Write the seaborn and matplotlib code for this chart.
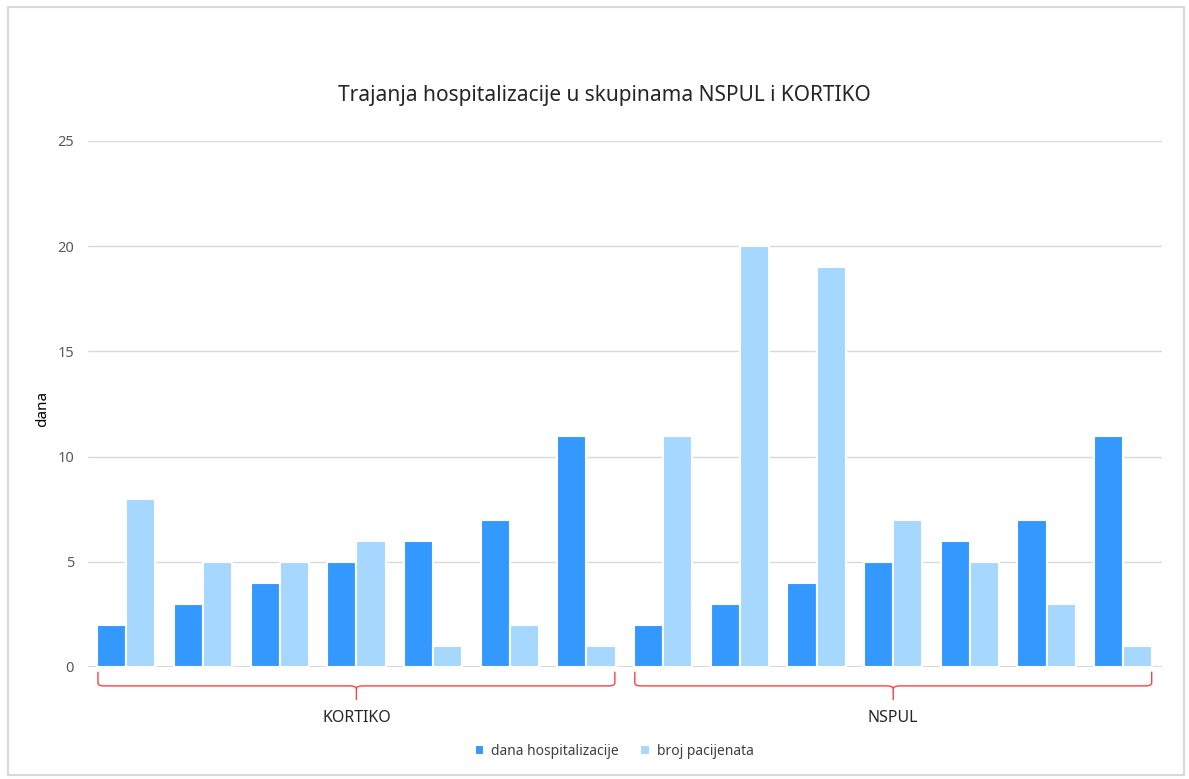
import pandas as pd
import matplotlib.pyplot as plt
import seaborn as sns
import numpy as np
from matplotlib.path import Path
from matplotlib.patches import PathPatch, Rectangle
from matplotlib.transforms import blended_transform_factory

# ====== Data ======
skupine = ["KORTIKO", "NSPUL"]
dana_hospitalizacije = [2, 3, 4, 5, 6, 7, 11, 2, 3, 4, 5, 6, 7, 11]
broj_pacijenata = [8, 5, 5, 6, 1, 2, 1, 11, 20, 19, 7, 5, 3, 1]
serije = ["dana hospitalizacije", "broj pacijenata"]
boje = ["#3399FF", "#A6D7FF"]

n = len(dana_hospitalizacije)
df = pd.DataFrame({
    "poz": list(range(n)) * 2,
    "vrijednost": dana_hospitalizacije + broj_pacijenata,
    "serija": [serije[0]] * n + [serije[1]] * n,
})

# ====== Plot ======
sns.set_style("white")
plt.rcParams['font.family'] = ['Noto Sans', 'DejaVu Sans']

fig = plt.figure(figsize=(11.89, 7.79), dpi=100)
ax = fig.add_axes([0.074, 0.1438, 0.903, 0.6752])

sns.barplot(data=df, x="poz", y="vrijednost", hue="serija", palette=boje,
            saturation=1, width=0.76, edgecolor="white", linewidth=1.5, ax=ax)

ax.set_ylim(0, 25)
ax.set_xlim(-0.5, n - 0.5)
ax.set_yticks(range(0, 26, 5))
ax.tick_params(axis='y', colors='#595959', labelsize=10.5, length=0, pad=10)
ax.set_xticks([])
ax.set_xlabel("")
ax.set_ylabel("dana", fontsize=11, color='black')
ax.yaxis.set_label_coords(-0.035, 0.49)
ax.yaxis.grid(True, color='#d9d9d9', linewidth=1)
ax.set_axisbelow(True)
for s in ax.spines.values():
    s.set_visible(False)
ax.axhline(0, color='#d9d9d9', linewidth=1.5, zorder=0)

fig.text(0.508, 0.878, "Trajanja hospitalizacije u skupinama NSPUL i KORTIKO",
         ha='center', va='center', fontsize=15, color='#262626')

# ====== Braces for groups ======
trans = blended_transform_factory(ax.transData, ax.transAxes)
grupe = [(-0.37, 6.37), (6.63, 13.37)]
y0, y1, y2 = -0.009, -0.036, -0.063
for (a, b), ime in zip(grupe, skupine):
    c = (a + b) / 2
    r = 0.08
    verts = [(a, y0), (a, y1 + 0.006), (a, y1), (a + r, y1),
             (c - r, y1), (c, y1), (c, y1 - 0.006), (c, y2)]
    codes = [Path.MOVETO, Path.LINETO, Path.CURVE3, Path.CURVE3,
             Path.LINETO, Path.CURVE3, Path.CURVE3, Path.LINETO]
    ax.add_patch(PathPatch(Path(verts, codes), transform=trans, fill=False,
                           edgecolor='#FF4040', linewidth=1, clip_on=False))
    verts = [(b, y0), (b, y1 + 0.006), (b, y1), (b - r, y1),
             (c + r, y1), (c, y1), (c, y1 - 0.006)]
    codes = [Path.MOVETO, Path.LINETO, Path.CURVE3, Path.CURVE3,
             Path.LINETO, Path.CURVE3, Path.CURVE3]
    ax.add_patch(PathPatch(Path(verts, codes), transform=trans, fill=False,
                           edgecolor='#FF4040', linewidth=1, clip_on=False))
    ax.text(c, -0.097, ime, transform=trans, ha='center', va='center',
            fontsize=11.5, color='#262626')

# ====== Legend ======
ax.legend(loc='center', bbox_to_anchor=(0.49, -0.16), ncol=2, frameon=False,
          fontsize=10, handlelength=0.7, handleheight=0.7, columnspacing=1.5,
          handletextpad=0.5, labelcolor='#404040')

# ====== Outer border ======
fig.patches.append(Rectangle((0.007, 0.005), 0.989, 0.986, transform=fig.transFigure,
                             fill=False, edgecolor='#d9d9d9', linewidth=1.5))

plt.savefig("out.png", dpi=100)
